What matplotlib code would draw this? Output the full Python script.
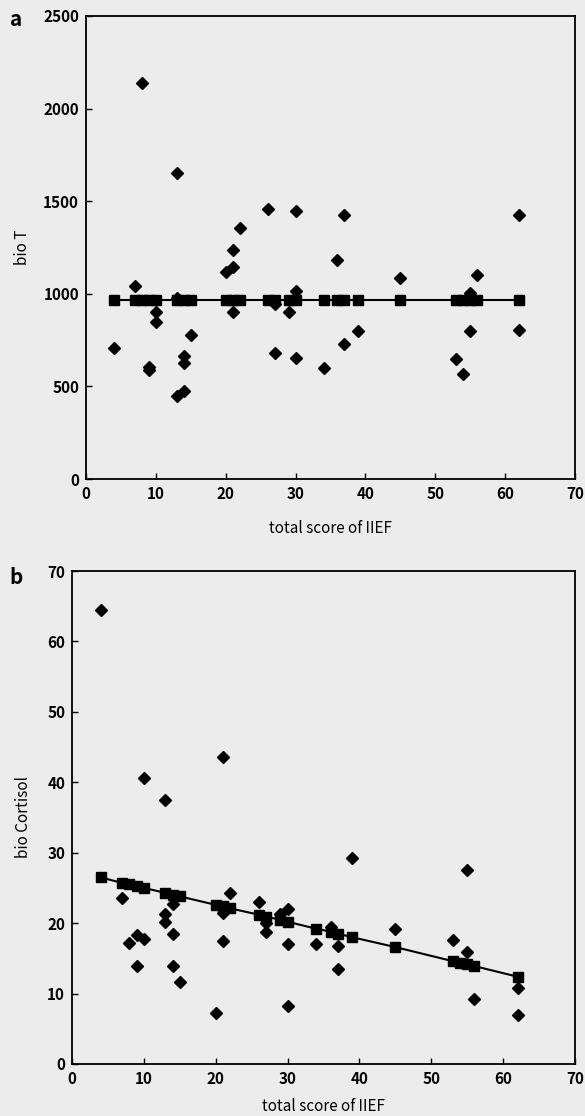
import matplotlib.pyplot as plt

plt.rcParams['font.family'] = ['Noto Sans CJK JP', 'DejaVu Sans']

# panel a : bio T vs total score of IIEF
a_x = [4, 7, 8, 9, 9, 10, 10, 13, 13, 13, 14, 14, 14, 15, 20, 21, 21, 21, 22,
       26, 27, 27, 29, 30, 30, 30, 34, 36, 37, 37, 39, 45, 53, 54, 55, 55, 56, 62, 62]
a_y = [707, 1042, 2140, 605, 590, 903, 846, 1650, 450, 975, 666, 625, 477, 778, 1119, 1143, 1235, 903, 1355,
       1460, 945, 680, 903, 1446, 1015, 653, 600, 1183, 1427, 731, 801, 1087, 650, 565, 1006, 801, 1100, 1427, 806]

# panel b : bio Cortisol vs total score of IIEF
b_x = [4, 7, 8, 9, 9, 10, 10, 13, 13, 13, 14, 14, 14, 15, 20, 21, 21, 21, 22,
       26, 27, 27, 29, 30, 30, 30, 34, 36, 37, 37, 39, 45, 53, 55, 55, 56, 62, 62]
b_y = [64.4, 23.6, 17.2, 18.3, 13.9, 40.6, 17.7, 37.5, 21.3, 20.1, 22.7, 18.5, 13.9, 11.6, 7.3, 43.6, 21.4, 17.5, 24.3,
       23.0, 20.0, 18.7, 21.3, 22.0, 17.1, 8.25, 17.0, 19.4, 16.8, 13.5, 29.2, 19.2, 17.6, 27.5, 15.9, 9.3, 10.8, 7.0]

# predicted values (squares on the fitted line)
fit_x = [4, 7, 8, 9, 10, 13, 14, 15, 20, 21, 22, 26, 27, 29, 30, 34, 36, 37, 39, 45, 53, 54, 55, 56, 62]
fit_a = [965] * len(fit_x)
fit_b = [26.5, 25.7, 25.5, 25.3, 25.0, 24.3, 24.0, 23.8, 22.6, 22.4, 22.1, 21.2, 20.9, 20.5, 20.2,
         19.2, 18.8, 18.5, 18.0, 16.6, 14.6, 14.4, 14.2, 13.9, 12.4]

W, H = 585, 1116
bg = '#ececec'
fig = plt.figure(figsize=(W / 100, H / 100), dpi=100, facecolor=bg)


def box(l, t, r, b):
    return fig.add_axes([l / W, 1 - b / H, (r - l) / W, (b - t) / H], facecolor=bg)


def style(ax, ylim, yticks):
    ax.set_xlim(0, 70)
    ax.set_ylim(*ylim)
    ax.set_xticks(range(0, 71, 10))
    ax.set_yticks(yticks)
    ax.tick_params(direction='in', length=4, width=1, labelsize=11, pad=5)
    for lab in ax.get_xticklabels() + ax.get_yticklabels():
        lab.set_fontweight('bold')
    for s in ax.spines.values():
        s.set_linewidth(1.3)


ax1 = box(86, 16, 575, 479)
ax1.plot(fit_x, fit_a, color='black', lw=1.5, marker='s', ms=6.5, zorder=2)
ax1.plot(a_x, a_y, 'D', color='black', ms=6.5, zorder=3)
style(ax1, (0, 2500), range(0, 2501, 500))
ax1.set_xlabel('total score of IIEF', fontsize=11, labelpad=13)
ax1.set_ylabel('bio T', fontsize=11, labelpad=9)

ax2 = box(72, 571, 575, 1064)
ax2.plot(fit_x, fit_b, color='black', lw=1.5, marker='s', ms=6.5, zorder=2)
ax2.plot(b_x, b_y, 'D', color='black', ms=6.5, zorder=3)
style(ax2, (0, 70), range(0, 71, 10))
ax2.set_xlabel('total score of IIEF', fontsize=11, labelpad=8)
ax2.set_ylabel('bio Cortisol', fontsize=11, labelpad=11)

fig.text(16 / W, 1 - 20 / H, 'a', fontsize=15, fontweight='bold', va='center', ha='center')
fig.text(16 / W, 1 - 577 / H, 'b', fontsize=15, fontweight='bold', va='center', ha='center')

fig.savefig('out.png', dpi=100, facecolor=bg)
